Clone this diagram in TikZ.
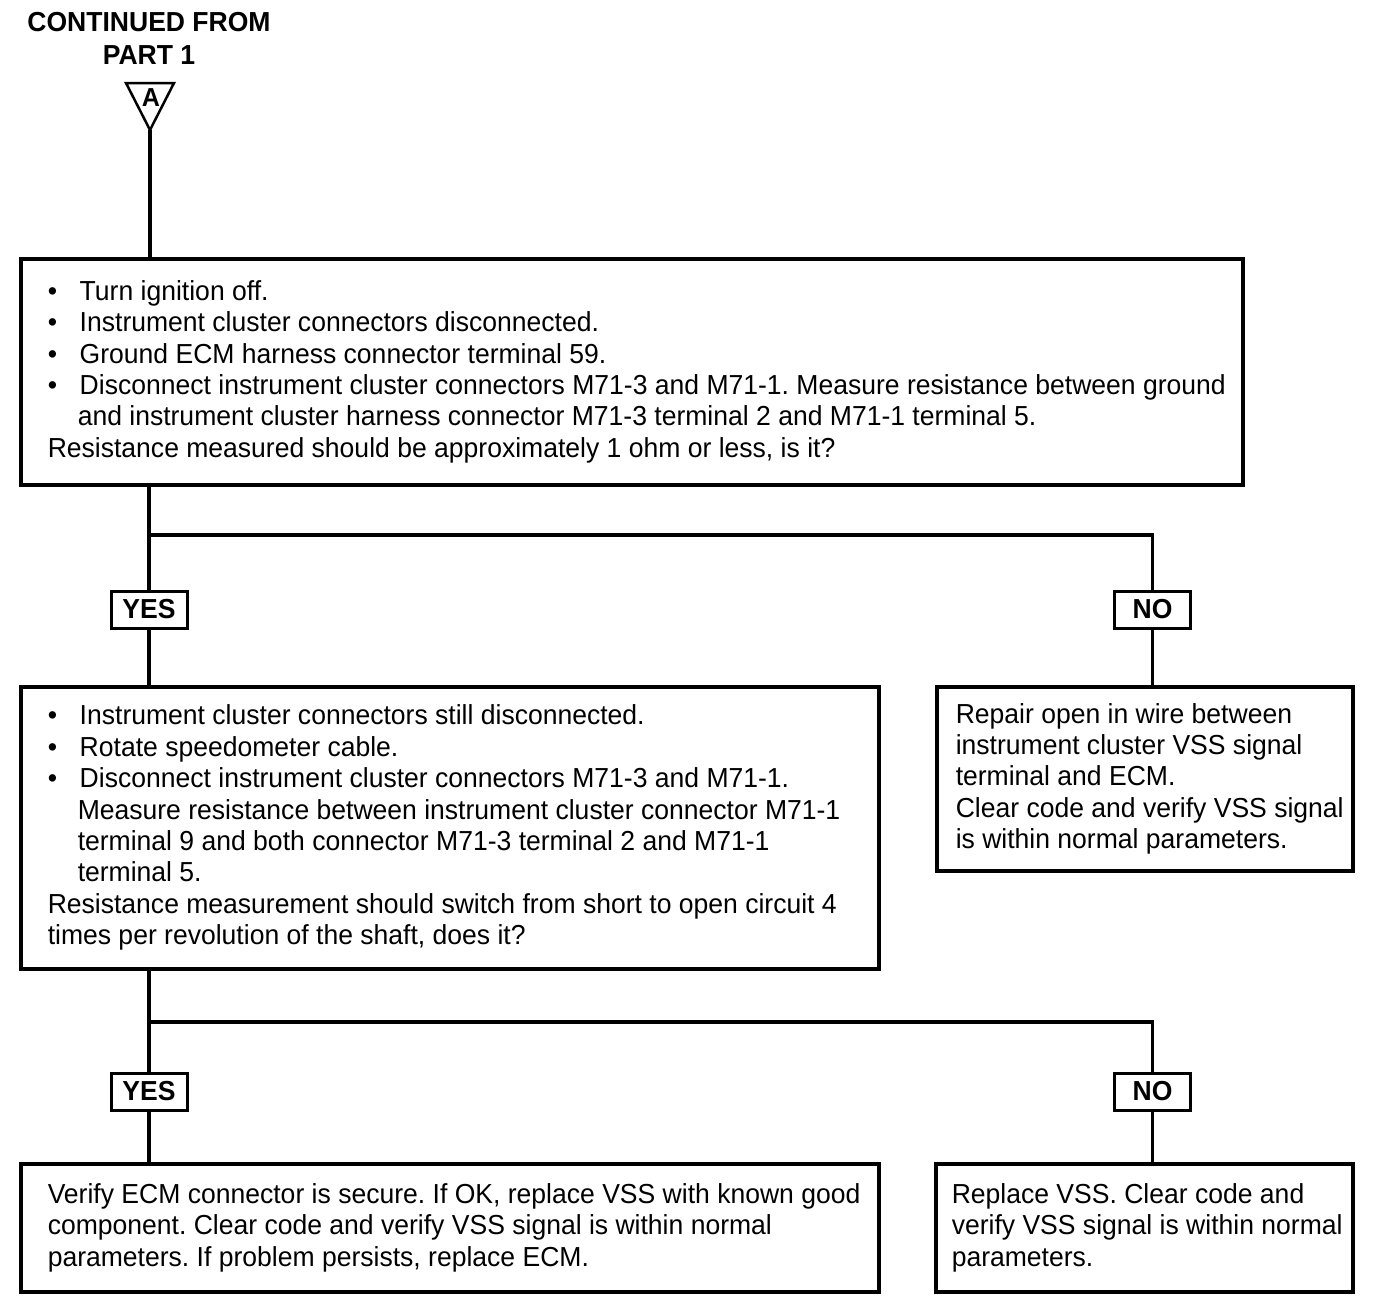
\documentclass[tikz,border=0pt]{standalone}
\usepackage{fontspec}
\setmainfont{Liberation Sans}[FakeStretch=0.965]
\frenchspacing
\newcommand{\bx}[3]{\makebox[#1][l]{\hspace*{#2}\parbox{\dimexpr#1-#2\relax}{\raggedright\frenchspacing\fontsize{27.5}{31.4}\selectfont #3}}}
\newcommand{\bul}{\makebox[32pt][l]{\textbullet}}
\newcommand{\cont}{\hspace*{30pt}}
\tikzset{
  box/.style={draw, line width=3.5pt, inner sep=0pt, anchor=north west},
  lbl/.style={draw, line width=3pt, inner sep=0pt, minimum width=76pt, minimum height=37pt, font=\fontsize{27.5}{30}\selectfont\bfseries},
  conn/.style={line width=3.5pt},
}
\begin{document}
\begin{tikzpicture}[x=1pt,y=-1pt]
\useasboundingbox (0,0) rectangle (1392,1306);
% header
\node[align=center, font=\fontsize{27.5}{33}\selectfont\bfseries] (hdr) at (149,38) {CONTINUED FROM\\PART 1};
\coordinate (tl) at (126,83);
\coordinate (tr) at (174,83);
\coordinate (tip) at (150,130);
\draw[line width=2.5pt, line join=miter] (tl) -- (tr) -- (tip) -- cycle;
\node[font=\fontsize{26}{26}\selectfont\bfseries, inner sep=0pt] (A) at (151,98) {A};
% boxes
\node[box, minimum width=1222pt, minimum height=226pt] (b1) at (19,257) {\bx{1222pt}{27pt}{%
\bul Turn ignition off.\\
\bul Instrument cluster connectors disconnected.\\
\bul Ground ECM harness connector terminal 59.\\
\bul Disconnect instrument cluster connectors M71-3 and M71-1. Measure resistance between ground\\
\cont and instrument cluster harness connector M71-3 terminal 2 and M71-1 terminal 5.\\
Resistance measured should be approximately 1 ohm or less, is it?}};
\node[box, minimum width=858pt, minimum height=282pt] (b2) at (19,685) {\bx{858pt}{27pt}{%
\bul Instrument cluster connectors still disconnected.\\
\bul Rotate speedometer cable.\\
\bul Disconnect instrument cluster connectors M71-3 and M71-1.\\
\cont Measure resistance between instrument cluster connector M71-1\\
\cont terminal 9 and both connector M71-3 terminal 2 and M71-1\\
\cont terminal 5.\\
Resistance measurement should switch from short to open circuit 4\\
times per revolution of the shaft, does it?}};
\node[box, minimum width=416pt, minimum height=184pt] (b3) at (935,685) {\bx{416pt}{19pt}{%
Repair open in wire between\\
instrument cluster VSS signal\\
terminal and ECM.\\
Clear code and verify VSS signal\\
is within normal parameters.}};
\node[box, minimum width=858pt, minimum height=128pt] (b4) at (19,1162) {\bx{858pt}{27pt}{%
Verify ECM connector is secure. If OK, replace VSS with known good\\
component. Clear code and verify VSS signal is within normal\\
parameters. If problem persists, replace ECM.}};
\node[box, minimum width=417pt, minimum height=128pt] (b5) at (934,1162) {\bx{417pt}{16pt}{%
Replace VSS. Clear code and\\
verify VSS signal is within normal\\
parameters.}};
% labels
\node[lbl] (y1) at (149,609.5) {YES};
\node[lbl] (n1) at (1152.5,609.5) {NO};
\node[lbl] (y2) at (149,1091.5) {YES};
\node[lbl] (n2) at (1152.5,1091.5) {NO};
\coordinate (j1) at (149,535);
\coordinate (j2) at (149,1022);
% connectors
\draw[conn] (tip) -- (tip |- b1.north);
\draw[conn] (y1.north |- b1.south) -- (y1.north);
\draw[conn] (j1) -| (n1.north);
\draw[conn] (y1.south) -- (y1.south |- b2.north);
\draw[conn] (n1.south) -- (n1.south |- b3.north);
\draw[conn] (y2.north |- b2.south) -- (y2.north);
\draw[conn] (j2) -| (n2.north);
\draw[conn] (y2.south) -- (y2.south |- b4.north);
\draw[conn] (n2.south) -- (n2.south |- b5.north);
\end{tikzpicture}
\end{document}
